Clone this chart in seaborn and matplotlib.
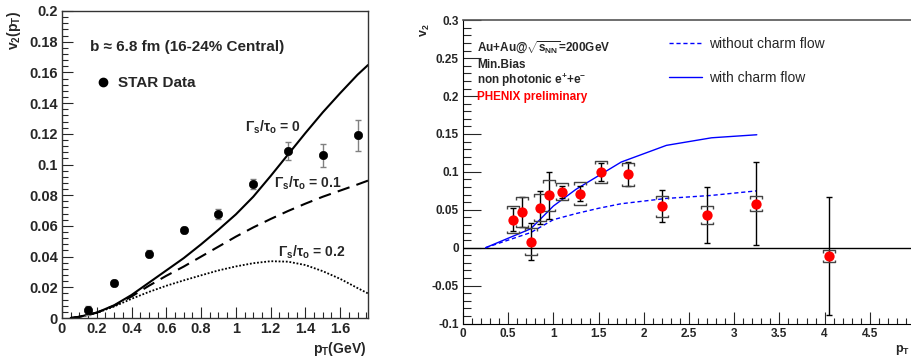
import numpy as np
import pandas as pd
import matplotlib
matplotlib.use("Agg")
import matplotlib.pyplot as plt
import seaborn as sns
from matplotlib.lines import Line2D
from matplotlib.path import Path
from matplotlib.ticker import MultipleLocator, AutoMinorLocator, FormatStrFormatter

# ---------------- data: left panel (STAR, hydro curves) ----------------
star_pt = [0.15, 0.30, 0.50, 0.70, 0.90, 1.10, 1.30, 1.50, 1.70]
star_v2 = [0.005, 0.0226, 0.042, 0.0573, 0.0678, 0.0873, 0.1088, 0.106, 0.119]
star_err = [0.003, 0.002, 0.002, 0.002, 0.003, 0.003, 0.006, 0.0075, 0.010]

curve_pt = [0.05, 0.1, 0.2, 0.3, 0.4, 0.5, 0.6, 0.7, 0.8, 0.9, 1.0,
            1.1, 1.2, 1.3, 1.4, 1.5, 1.6, 1.7, 1.76]
v2_gamma0 = [0.0, 0.0008, 0.0035, 0.0083, 0.0150, 0.0230, 0.0310, 0.0390, 0.0480, 0.0575, 0.0675,
             0.0790, 0.0925, 0.1065, 0.1205, 0.1340, 0.1465, 0.1585, 0.1648]
v2_gamma01 = [0.0, 0.0008, 0.0035, 0.0080, 0.0140, 0.0210, 0.0275, 0.0335, 0.0400, 0.0465, 0.0530,
              0.0590, 0.0645, 0.0697, 0.0745, 0.0790, 0.0830, 0.0870, 0.0895]
v2_gamma02 = [0.0, 0.0008, 0.0033, 0.0075, 0.0125, 0.0170, 0.0210, 0.0245, 0.0278, 0.0310, 0.0336,
              0.0357, 0.0370, 0.0367, 0.0345, 0.0305, 0.0255, 0.0195, 0.0160]

# ---------------- data: right panel (PHENIX) ----------------
phx_pt = [0.55, 0.65, 0.75, 0.85, 0.95, 1.09, 1.29, 1.53, 1.83, 2.20, 2.70, 3.24, 4.045]
phx_v2 = [0.037, 0.047, 0.008, 0.053, 0.069, 0.074, 0.0715, 0.0995, 0.097, 0.0545, 0.0427, 0.058, -0.0114]
phx_stat = [0.015, 0.020, 0.024, 0.022, 0.031, 0.008, 0.010, 0.012, 0.016, 0.021, 0.037, 0.055, 0.078]
phx_sys = [0.018, 0.020, 0.018, 0.018, 0.020, 0.011, 0.015, 0.0145, 0.015, 0.0135, 0.012, 0.010, 0.008]

model_pt = [0.25, 0.75, 1.0, 1.25, 1.5, 1.75, 2.25, 2.75, 3.25]
v2_no_charm = [0.0, 0.020, 0.037, 0.045, 0.052, 0.058, 0.065, 0.069, 0.075]
v2_charm = [0.0, 0.025, 0.055, 0.077, 0.095, 0.113, 0.135, 0.145, 0.149]

# ---------------- style ----------------
sns.set_style("ticks")
plt.rcParams["font.family"] = ["Liberation Sans", "DejaVu Sans"]
plt.rcParams["mathtext.fontset"] = "custom"
plt.rcParams["mathtext.rm"] = "Liberation Sans"
plt.rcParams["mathtext.it"] = "Liberation Sans:italic"
plt.rcParams["mathtext.bf"] = "Liberation Sans:bold"
plt.rcParams["axes.unicode_minus"] = False

W, H = 911, 360
fig = plt.figure(figsize=(W / 100, H / 100), dpi=100)


def fx(px):
    return px / W


def fy(py):
    return 1 - py / H


# ---------------- left panel ----------------
ax1 = fig.add_axes([fx(62), fy(318), (368 - 62) / W, (318 - 11) / H])
ax1.set_xlim(0, 1.76)
ax1.set_ylim(0, 0.2)

cdf = pd.DataFrame({"pt": curve_pt, "g0": v2_gamma0, "g1": v2_gamma01, "g2": v2_gamma02})
sns.lineplot(data=cdf, x="pt", y="g0", ax=ax1, color="black", lw=1.5, sort=False, estimator=None)
sns.lineplot(data=cdf, x="pt", y="g1", ax=ax1, color="black", lw=1.5, sort=False, estimator=None,
             linestyle=(0, (6, 3.5)))
sns.lineplot(data=cdf, x="pt", y="g2", ax=ax1, color="black", lw=1.3, sort=False, estimator=None,
             linestyle=(0, (1, 1)))

ax1.errorbar(star_pt, star_v2, yerr=star_err, fmt="none", ecolor="#808080", elinewidth=1,
             capsize=2, capthick=1, zorder=3)
sdf = pd.DataFrame({"pt": star_pt, "v2": star_v2})
sns.scatterplot(data=sdf, x="pt", y="v2", ax=ax1, color="black", s=36, edgecolor="black", zorder=4)

ax1.xaxis.set_major_locator(MultipleLocator(0.2))
ax1.xaxis.set_minor_locator(AutoMinorLocator(4))
ax1.yaxis.set_major_locator(MultipleLocator(0.02))
ax1.yaxis.set_minor_locator(AutoMinorLocator(5))
ax1.xaxis.set_major_formatter(FormatStrFormatter("%g"))
ax1.yaxis.set_major_formatter(FormatStrFormatter("%g"))
ax1.tick_params(axis="both", which="major", direction="in", length=8, width=0.8,
                labelsize=10.5, pad=3, top=False, right=False)
ax1.tick_params(axis="both", which="minor", direction="in", length=4, width=0.8,
                top=False, right=False)
for lab in ax1.get_xticklabels() + ax1.get_yticklabels():
    lab.set_fontweight("bold")
for sp in ax1.spines.values():
    sp.set_linewidth(1.0)
    sp.set_color("#333333")
ax1.set_xlabel("")
ax1.set_ylabel("")

fig.text(fx(14), fy(30), r"v$_\mathbf{2}$(p$_\mathbf{T}$)", rotation=90, ha="center", va="center",
         fontsize=10, fontweight="bold")
fig.text(fx(366), fy(349), r"p$_\mathbf{T}$(GeV)", ha="right", va="center",
         fontsize=10, fontweight="bold")

fig.text(fx(90), fy(47), "b ≈ 6.8 fm (16-24% Central)", ha="left", va="center",
         fontsize=11, fontweight="bold")
star_handle = Line2D([], [], marker="o", ls="", color="black", ms=6)
ax1.legend(handles=[star_handle], labels=["STAR Data"], loc="upper left",
           bbox_to_anchor=(fx(95.5), fy(76)), bbox_transform=fig.transFigure,
           frameon=False, borderpad=0, borderaxespad=0, handlelength=1.0, handletextpad=0.45,
           prop={"weight": "bold", "size": 11})

fig.text(fx(245), fy(127), r"Γ$_\mathbf{s}$/τ$_\mathbf{o}$ = 0", ha="left", va="center",
         fontsize=10, fontweight="bold")
fig.text(fx(274), fy(183), r"Γ$_\mathbf{s}$/τ$_\mathbf{o}$ = 0.1", ha="left", va="center",
         fontsize=10, fontweight="bold")
fig.text(fx(278), fy(252), r"Γ$_\mathbf{s}$/τ$_\mathbf{o}$ = 0.2", ha="left", va="center",
         fontsize=10, fontweight="bold")

# ---------------- right panel ----------------
ax2 = fig.add_axes([fx(463), fy(323.5), (W - 463) / W, (323.5 - 20.3) / H])
ax2.set_xlim(0, (W - 463) / 90.4)
ax2.set_ylim(-0.1, 0.3)
ax2.axhline(0, color="black", lw=1.0, zorder=1)

mdf = pd.DataFrame({"pt": model_pt, "nc": v2_no_charm, "wc": v2_charm})
sns.lineplot(data=mdf, x="pt", y="nc", ax=ax2, color="#0000ff", lw=1.0, sort=False,
             estimator=None, linestyle=(0, (3, 2)))
sns.lineplot(data=mdf, x="pt", y="wc", ax=ax2, color="#0000ff", lw=1.0, sort=False,
             estimator=None)

ax2.errorbar(phx_pt, phx_v2, yerr=phx_stat, fmt="none", ecolor="black", elinewidth=1,
             capsize=2, capthick=1, zorder=3)

top_bracket = Path([(-1, -0.45), (-1, 0), (1, 0), (1, -0.45)],
                   [Path.MOVETO, Path.LINETO, Path.LINETO, Path.LINETO])
bot_bracket = Path([(-1, 0.45), (-1, 0), (1, 0), (1, 0.45)],
                   [Path.MOVETO, Path.LINETO, Path.LINETO, Path.LINETO])
sys_hi = [v + s for v, s in zip(phx_v2, phx_sys)]
sys_lo = [v - s for v, s in zip(phx_v2, phx_sys)]
ax2.plot(phx_pt, sys_hi, ls="", marker=top_bracket, ms=8, mfc="none", mec="#444444",
         mew=1.0, zorder=3)
ax2.plot(phx_pt, sys_lo, ls="", marker=bot_bracket, ms=8, mfc="none", mec="#444444",
         mew=1.0, zorder=3)

pdf_ = pd.DataFrame({"pt": phx_pt, "v2": phx_v2})
sns.scatterplot(data=pdf_, x="pt", y="v2", ax=ax2, color="#ff0000", s=55, edgecolor="#ff0000",
                linewidth=0, zorder=4)

ax2.xaxis.set_major_locator(MultipleLocator(0.5))
ax2.xaxis.set_minor_locator(AutoMinorLocator(5))
ax2.yaxis.set_major_locator(MultipleLocator(0.05))
ax2.yaxis.set_minor_locator(AutoMinorLocator(5))
ax2.xaxis.set_major_formatter(FormatStrFormatter("%g"))
ax2.yaxis.set_major_formatter(FormatStrFormatter("%g"))
ax2.tick_params(axis="x", which="major", direction="in", length=9, width=0.8,
                labelsize=8.5, pad=3, top=False)
ax2.tick_params(axis="x", which="minor", direction="in", length=4.5, width=0.8, top=False)
ax2.tick_params(axis="y", which="major", direction="in", length=13, width=0.8,
                labelsize=8.5, pad=3, right=False)
ax2.tick_params(axis="y", which="minor", direction="in", length=6, width=0.8, right=False)
for lab in ax2.get_xticklabels() + ax2.get_yticklabels():
    lab.set_fontweight("bold")
ax2.spines["left"].set_color("black")
ax2.spines["bottom"].set_color("black")
ax2.spines["top"].set_color("#555555")
ax2.spines["top"].set_linewidth(1.2)
ax2.spines["right"].set_visible(False)
ax2.set_xlabel("")
ax2.set_ylabel("")

fig.text(fx(425), fy(30), r"v$_\mathbf{2}$", rotation=90, ha="center", va="center",
         fontsize=9, fontweight="bold")
fig.text(fx(910), fy(350), r"p$_\mathbf{T}$", ha="right", va="center",
         fontsize=9, fontweight="bold")

fig.text(fx(477), fy(48), r"Au+Au@$\sqrt{\mathbf{s_{NN}}}$=200GeV", ha="left", va="center",
         fontsize=8.5, fontweight="bold")
fig.text(fx(477), fy(65), "Min.Bias", ha="left", va="center", fontsize=8.5, fontweight="bold")
fig.text(fx(477), fy(80), r"non photonic e$^\mathbf{+}$+e$^\mathbf{-}$", ha="left", va="center",
         fontsize=8.5, fontweight="bold")
fig.text(fx(477), fy(97), "PHENIX preliminary", ha="left", va="center", fontsize=8.5,
         fontweight="bold", color="#ff0000")

h_nc = Line2D([], [], color="#0000ff", lw=1.0, ls=(0, (3, 2)))
h_wc = Line2D([], [], color="#0000ff", lw=1.0)
ax2.legend(handles=[h_nc, h_wc], labels=["without charm flow", "with charm flow"],
           loc="upper left", bbox_to_anchor=(fx(669), fy(37)), bbox_transform=fig.transFigure,
           frameon=False, borderpad=0, borderaxespad=0, handlelength=2.4, handletextpad=0.45,
           labelspacing=1.45, prop={"size": 10})

fig.savefig("out.png", dpi=100)
